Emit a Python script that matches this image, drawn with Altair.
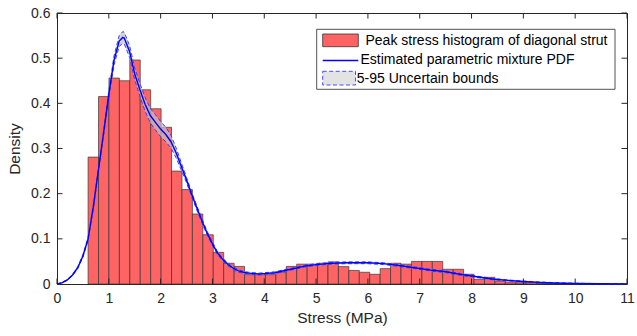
import altair as alt
import pandas as pd

# ---------------- data ----------------
BIN_START = 0.6
BIN_WIDTH = 0.2013
hist_density = [
    0.281, 0.415, 0.456, 0.450, 0.496, 0.430, 0.388, 0.347, 0.250, 0.209,
    0.155, 0.109, 0.070, 0.046, 0.039, 0.0207, 0.0207, 0.0207, 0.026, 0.039,
    0.044, 0.044, 0.046, 0.049, 0.0385, 0.030, 0.026, 0.0215, 0.034, 0.046,
    0.044, 0.050, 0.050, 0.050, 0.0326, 0.0326, 0.0215, 0.0104, 0.0148, 0.0067,
    0.0044, 0.003, 0.0037, 0.0012, 0.0008, 0.0005, 0.0005,
]

pdf_x = [0, 0.1, 0.2, 0.3, 0.4, 0.5, 0.6, 0.7, 0.8, 0.9, 1.0, 1.1, 1.2, 1.27,
         1.3, 1.4, 1.5, 1.6, 1.7, 1.8, 1.9, 2.0, 2.1, 2.2, 2.3, 2.4, 2.5, 2.6,
         2.7, 2.8, 2.9, 3.0, 3.1, 3.2, 3.3, 3.4, 3.5, 3.6, 3.7, 3.8, 3.9, 4.0,
         4.2, 4.4, 4.6, 4.8, 5.0, 5.3, 5.6, 6.0, 6.3, 6.6, 6.9, 7.2, 7.5, 7.8,
         8.1, 8.4, 8.7, 9.0, 9.3, 9.6, 10.0, 10.5, 11.0]
pdf_mid = [0.0, 0.003, 0.009, 0.02, 0.036, 0.062, 0.10, 0.17, 0.253, 0.335,
           0.42, 0.495, 0.538, 0.546, 0.544, 0.515, 0.465, 0.43, 0.398, 0.373,
           0.358, 0.343, 0.331, 0.315, 0.29, 0.26, 0.23, 0.198, 0.168, 0.139,
           0.112, 0.089, 0.068, 0.054, 0.043, 0.035, 0.029, 0.026, 0.024, 0.023,
           0.022, 0.023, 0.025, 0.030, 0.035, 0.040, 0.043, 0.046, 0.047, 0.047,
           0.045, 0.041, 0.036, 0.031, 0.027, 0.021, 0.016, 0.011, 0.008, 0.0055,
           0.0037, 0.0022, 0.0012, 0.0005, 0.0002]
pdf_halfband = [0.0, 0.0005, 0.001, 0.0015, 0.002, 0.003, 0.003, 0.004, 0.004,
                0.005, 0.007, 0.010, 0.012, 0.013, 0.013, 0.013, 0.013, 0.014,
                0.015, 0.016, 0.017, 0.017, 0.016, 0.014, 0.011, 0.008, 0.006,
                0.005, 0.005, 0.005, 0.004, 0.004, 0.003, 0.003, 0.003, 0.003,
                0.003, 0.002, 0.002, 0.002, 0.002, 0.002, 0.002, 0.002, 0.002,
                0.002, 0.002, 0.002, 0.002, 0.002, 0.002, 0.002, 0.002, 0.002,
                0.002, 0.002, 0.0015, 0.0015, 0.001, 0.001, 0.001, 0.0008,
                0.0005, 0.0003, 0.0001]

x_ticks = [0, 1, 2, 3, 4, 5, 6, 7, 8, 9, 10, 11]
y_ticks = [0, 0.1, 0.2, 0.3, 0.4, 0.5, 0.6]

legend_labels = ["Peak stress histogram of diagonal strut",
                 "Estimated parametric mixture PDF",
                 "5-95 Uncertain bounds"]

# ---------------- tables ----------------
hist_df = pd.DataFrame({
    "x0": [BIN_START + i * BIN_WIDTH for i in range(len(hist_density))],
    "x1": [BIN_START + (i + 1) * BIN_WIDTH for i in range(len(hist_density))],
    "h": hist_density,
})
hist_df["zero"] = 0.0

pdf_df = pd.DataFrame({"x": pdf_x, "mid": pdf_mid, "hb": pdf_halfband})
pdf_df["lo"] = pdf_df["mid"] - pdf_df["hb"]
pdf_df["hi"] = pdf_df["mid"] + pdf_df["hb"]

xt_df = pd.DataFrame({"t": x_ticks})
yt_df = pd.DataFrame({"t": y_ticks})

W, H = 570, 271
AX = "#262626"
FONT = "Liberation Sans"

xscale = alt.Scale(domain=[0, 11], nice=False, zero=False)
yscale = alt.Scale(domain=[0, 0.6], nice=False)
xaxis = alt.Axis(values=x_ticks, ticks=False, domain=False, grid=False,
                 labelFontSize=14, labelPadding=7, titleFontSize=15.5,
                 titlePadding=5, labelColor=AX, titleColor=AX,
                 labelFlush=False, labelOverlap=False,
                 titleFontWeight="normal", labelFont=FONT, titleFont=FONT)
yaxis = alt.Axis(values=y_ticks, ticks=False, domain=False, grid=False,
                 labelFontSize=14, labelPadding=7, titleFontSize=15.5,
                 titlePadding=8, labelColor=AX, titleColor=AX, format="~g",
                 labelFlush=False, labelOverlap=False,
                 titleFontWeight="normal", labelFont=FONT, titleFont=FONT)


def X(field):
    return alt.X(field, type="quantitative", scale=xscale, axis=xaxis,
                 title="Stress (MPa)")


def Y(field):
    return alt.Y(field, type="quantitative", scale=yscale, axis=yaxis,
                 title="Density")


bars = alt.Chart(hist_df).mark_rect(
    fill="#FF6464", stroke="#333333", strokeWidth=0.8, strokeOpacity=0.85
).encode(x=X("x0"), x2="x1", y=Y("h"), y2="zero")

band = alt.Chart(pdf_df).mark_area(
    color="#C0C0C0", opacity=0.7
).encode(x=X("x"), y=Y("lo"), y2="hi")

lo_line = alt.Chart(pdf_df).mark_line(
    color="#3C3CFF", strokeWidth=1, strokeDash=[4, 2.5]
).encode(x=X("x"), y=Y("lo"))

hi_line = alt.Chart(pdf_df).mark_line(
    color="#3C3CFF", strokeWidth=1, strokeDash=[4, 2.5]
).encode(x=X("x"), y=Y("hi"))

mid_line = alt.Chart(pdf_df).mark_line(
    color="#0000FF", strokeWidth=1.4
).encode(x=X("x"), y=Y("mid"))

TL = 5.5
tick_bot = alt.Chart(xt_df).mark_rule(color=AX, strokeWidth=1).encode(
    x=X("t"), y=alt.value(H), y2=alt.value(H - TL))
tick_top = alt.Chart(xt_df).mark_rule(color=AX, strokeWidth=1).encode(
    x=X("t"), y=alt.value(0), y2=alt.value(TL))
tick_left = alt.Chart(yt_df).mark_rule(color=AX, strokeWidth=1).encode(
    y=Y("t"), x=alt.value(0), x2=alt.value(TL))
tick_right = alt.Chart(yt_df).mark_rule(color=AX, strokeWidth=1).encode(
    y=Y("t"), x=alt.value(W), x2=alt.value(W - TL))

one = alt.Data(values=[{"k": 1}])

leg_box = alt.Chart(one).mark_rect(
    fill="white", stroke=AX, strokeWidth=0.8
).encode(x=alt.value(259.7), x2=alt.value(558), y=alt.value(16.3),
         y2=alt.value(76.3))
leg_sw1 = alt.Chart(one).mark_rect(
    fill="#FF6464", stroke="#333333", strokeWidth=0.8
).encode(x=alt.value(265.7), x2=alt.value(301.3), y=alt.value(21),
         y2=alt.value(33.7))
leg_sw2 = alt.Chart(one).mark_rule(color="#0000FF", strokeWidth=1.4).encode(
    x=alt.value(265.7), x2=alt.value(301.3), y=alt.value(47.5))
leg_sw3 = alt.Chart(one).mark_rect(
    fill="#E3E3E3", stroke="#4B4BFF", strokeWidth=1, strokeDash=[4, 2.5]
).encode(x=alt.value(265.7), x2=alt.value(298.5), y=alt.value(58.3),
         y2=alt.value(72))


def leg_text(txt, x, y):
    return alt.Chart(one).mark_text(
        align="left", baseline="middle", fontSize=14, font=FONT,
        color="black", text=txt
    ).encode(x=alt.value(x), y=alt.value(y))


leg_t1 = leg_text(legend_labels[0], 308.5, 28.2)
leg_t2 = leg_text(legend_labels[1], 303.5, 47.2)
leg_t3 = leg_text(legend_labels[2], 299.8, 65.6)

chart = alt.layer(
    bars, band, lo_line, hi_line, mid_line,
    tick_bot, tick_top, tick_left, tick_right,
    leg_box, leg_sw1, leg_sw2, leg_sw3, leg_t1, leg_t2, leg_t3,
).properties(
    width=W, height=H,
    padding={"left": 57, "top": 13, "right": 10, "bottom": 52},
    autosize=alt.AutoSizeParams(type="none"),
).configure(font=FONT, background="white").configure_view(
    stroke=AX, strokeWidth=1
)

chart.save("out.html", embed_options={"renderer": "svg", "actions": False})
